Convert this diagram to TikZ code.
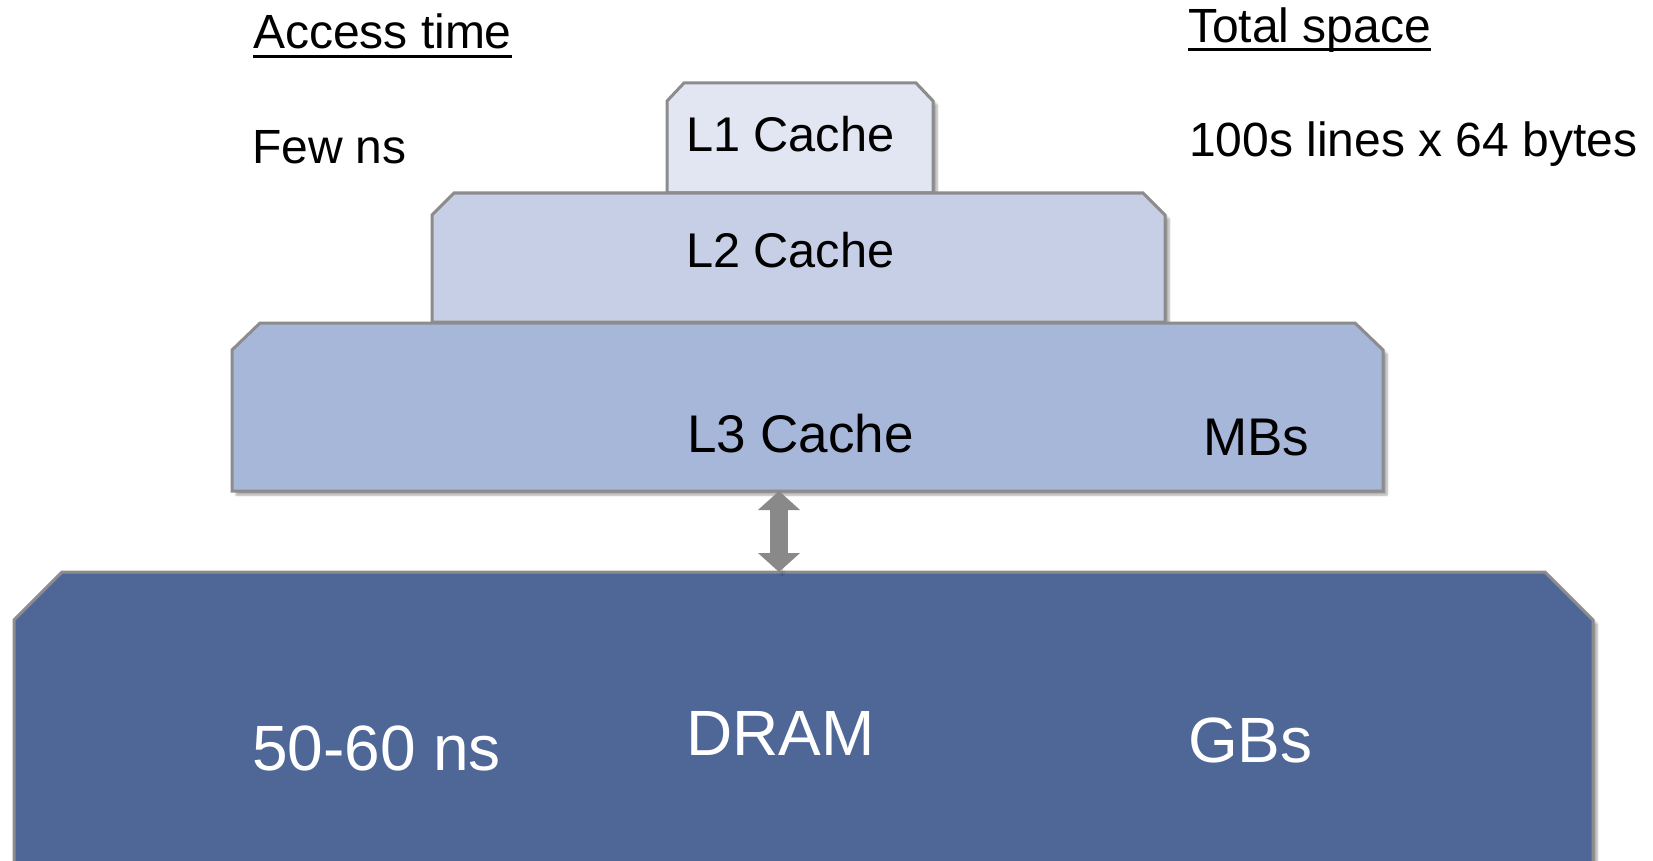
\documentclass[tikz,border=0pt]{standalone}
\usepackage{fontspec}
\setmainfont{Liberation Sans}
\usetikzlibrary{shadows.blur,arrows.meta}

\definecolor{edgegray}{HTML}{8C8C8C}
\definecolor{arrowgray}{HTML}{898989}
\definecolor{lonefill}{HTML}{E1E6F2}
\definecolor{ltwofill}{HTML}{C7CFE7}
\definecolor{lthreefill}{HTML}{A7B7DA}
\definecolor{dramfill}{HTML}{4F6797}

\tikzset{
  level/.style={draw=edgegray, line width=3pt,
    blur shadow={shadow xshift=4pt, shadow yshift=-4pt,
      shadow blur steps=6, shadow opacity=35}},
  label/.style={anchor=base west, inner sep=0pt, outer sep=0pt},
  small/.style={label, font=\fontsize{48}{58}\selectfont},
  medium/.style={label, font=\fontsize{48.7}{58}\selectfont},
  large/.style={label, font=\fontsize{53}{64}\selectfont},
  huge/.style={label, font=\fontsize{64}{76}\selectfont, text=white},
  headrule/.style={line width=2.6pt},
}

\begin{document}
\begin{tikzpicture}[x=1pt,y=-1pt]
\useasboundingbox (0,0) rectangle (1653,861);
\clip (0,0) rectangle (1653,861);

% memory levels with chamfered top corners; each lower level overlaps the one above
\path[level, fill=lonefill]
  (667,193) -- (667,101) -- (684,83) -- (916,83) -- (933,101) -- (933,193) -- cycle;
\path[level, fill=ltwofill]
  (432,322) -- (432,215) -- (454,193) -- (1143,193) -- (1165,215) -- (1165,322) -- cycle;
\path[level, fill=lthreefill]
  (232,491) -- (232,350) -- (260,323) -- (1355,323) -- (1383,350) -- (1383,491) -- cycle;
\path[level, fill=dramfill]
  (14,900) -- (14,620) -- (62,572) -- (1545,572) -- (1593,620) -- (1593,900) -- cycle;

% transfer between L3 and DRAM
\coordinate (L3bottom) at (779,491);
\coordinate (DRAMtop) at (779,572);
\draw[arrowgray, line width=18pt,
  {Triangle[width=41pt,length=19pt]}-{Triangle[width=41pt,length=19pt]},
  blur shadow={shadow xshift=3pt, shadow yshift=-3pt, shadow opacity=30}]
  (L3bottom) -- (DRAMtop);

% column headings
\node[small] (at) at (253,49) {Access time};
\draw[headrule] ([yshift=-7.5pt]at.base west) -- ([yshift=-7.5pt]at.base east);
\node[small] (ts) at (1188,43) {Total space};
\draw[headrule] ([yshift=-6.5pt]ts.base west) -- ([yshift=-6.5pt]ts.base east);

\node[small] (fewns) at (252,164) {Few ns};
\node[small] (lines) at (1189,157) {100s lines x 64 bytes};

% level names
\node[medium] (l1t) at (686,152) {L1 Cache};
\node[medium] (l2t) at (686,267) {L2 Cache};
\node[large] (l3t) at (687,452) {L3 Cache};
\node[large] (mbs) at (1203,455) {MBs};

\node[huge] (dramt) at (686,755) {DRAM};
\node[huge] (slow) at (252,770) {50-60 ns};
\node[huge] (gbs) at (1188,762) {GBs};
\end{tikzpicture}
\end{document}
